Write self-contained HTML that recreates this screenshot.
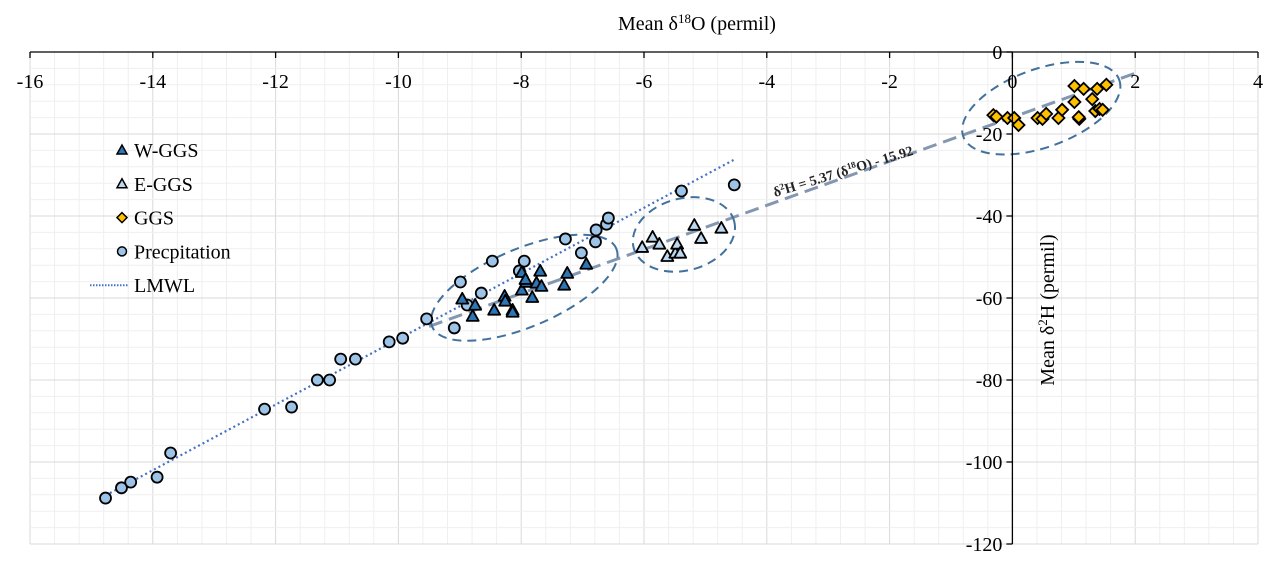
<!DOCTYPE html>
<html><head><meta charset="utf-8">
<style>
html,body{margin:0;padding:0;background:#fff;}
svg{display:block;font-family:"Liberation Serif",serif;}
</style></head>
<body>
<svg id="chart" width="1278" height="565" viewBox="0 0 1278 565" xmlns="http://www.w3.org/2000/svg">
<g id="grid"></g>
<g id="annot"></g>
<g id="marks"></g>
<g id="axes"></g>
<g id="legend"></g>
</svg>
<script>
const precipX=[-14.77,-14.51,-14.36,-13.93,-13.71,-12.18,-11.74,-11.32,-11.12,-10.94,-10.70,-10.15,-9.93,-9.54,-9.09,-8.99,-8.88,-8.65,-8.47,-8.03,-7.95,-7.28,-7.02,-6.79,-6.78,-6.61,-6.58,-5.39,-4.53];
const precipY=[-108.8,-106.3,-104.9,-103.7,-97.8,-87.1,-86.6,-80.0,-80.0,-74.9,-74.9,-70.7,-69.8,-65.1,-67.3,-56.1,-61.7,-58.8,-51.0,-53.4,-51.0,-45.6,-49.0,-46.3,-43.4,-42.0,-40.5,-33.9,-32.4];
const wX=[-8.96,-8.79,-8.75,-8.44,-8.27,-8.26,-8.14,-8.14,-7.99,-7.92,-7.75,-7.82,-7.67,-7.69,-7.99,-7.93,-7.30,-7.25,-6.94];
const wY=[-60.2,-64.4,-61.7,-62.9,-59.5,-60.7,-62.9,-63.4,-58.0,-56.1,-56.3,-59.8,-57.1,-53.4,-53.7,-55.4,-56.8,-53.9,-51.7];
const eX=[-6.03,-5.86,-5.75,-5.62,-5.49,-5.46,-5.41,-5.18,-5.07,-4.74];
const eY=[-47.6,-45.1,-46.8,-49.8,-49.0,-46.8,-49.0,-42.2,-45.4,-42.9];
const gX=[-0.31,-0.26,-0.08,0.03,0.10,0.41,0.49,0.55,0.75,0.81,1.01,1.01,1.09,1.16,1.30,1.38,1.35,1.42,1.47,1.53,1.08];
const gY=[-15.4,-15.8,-16.1,-16.1,-17.8,-16.1,-16.3,-15.1,-16.1,-14.1,-12.2,-8.3,-16.3,-9.0,-11.5,-9.0,-14.4,-13.9,-14.1,-8.0,-15.9];
const xTicks=[-16,-14,-12,-10,-8,-6,-4,-2,0,2,4];
const yTicks=[0,-20,-40,-60,-80,-100,-120];
const lmwlSlope=8.0, lmwlInt=10.0, lmwlRange=[-14.77,-4.53];
const regSlope=5.37, regInt=-15.92, regRange=[-9.5,2.0];

const NS="http://www.w3.org/2000/svg";
const X0=30,X1=1258,Y0=52,Y1=544;
const sx=v=>X0+(v+16)/20*(X1-X0);
const sy=v=>Y0+(-v)/120*(Y1-Y0);
function mk(tag,attrs,parent){const e=document.createElementNS(NS,tag);for(const k in attrs)e.setAttribute(k,attrs[k]);parent.appendChild(e);return e;}
const grid=document.getElementById('grid'),annot=document.getElementById('annot'),marks=document.getElementById('marks'),axes=document.getElementById('axes'),legend=document.getElementById('legend');

for(let i=0;i<=50;i++){const v=-16+i*0.4;const major=i%5==0;
 const l=mk('line',{x1:sx(v),x2:sx(v),y1:Y0,y2:Y1,stroke:major?'#d9d9d9':'#efefef','stroke-width':1},grid);
 
 }
for(let i=0;i<=30;i++){const v=-i*4;const major=i%5==0;
 const l=mk('line',{x1:X0,x2:X1,y1:sy(v),y2:sy(v),stroke:major?'#d9d9d9':'#efefef','stroke-width':1},grid);
 
 }

let lm=mk('line',{x1:sx(lmwlRange[0]),y1:sy(lmwlSlope*lmwlRange[0]+lmwlInt),x2:sx(lmwlRange[1]),y2:sy(lmwlSlope*lmwlRange[1]+lmwlInt),stroke:'#4472c4','stroke-width':2.2,'stroke-dasharray':'2 3'},annot);


let rg=mk('line',{x1:sx(regRange[0]),y1:sy(regSlope*regRange[0]+regInt),x2:sx(regRange[1]),y2:sy(regSlope*regRange[1]+regInt),stroke:'#8497b0','stroke-width':3,'stroke-dasharray':'14 7'},annot);



const ells=[[-7.95,-57.5,100,39,-23,'w-ggs-ellipse'],[-5.35,-44.5,52,36,-15,'e-ggs-ellipse'],[0.47,-13.7,83,39,-20,'ggs-ellipse']];
ells.forEach(e=>{const el=mk('ellipse',{cx:sx(e[0]),cy:sy(e[1]),rx:e[2],ry:e[3],transform:`rotate(${e[4]} ${sx(e[0])} ${sy(e[1])})`,fill:'none',stroke:'#41719c','stroke-width':2,'stroke-dasharray':'9 6'},annot);
 
 });

const eq=mk('text',{x:0,y:0,'font-size':14,'font-weight':'bold',fill:'#222',transform:`translate(775,197) rotate(-17)`},annot);
eq.innerHTML='δ<tspan dy="-5" font-size="9">2</tspan><tspan dy="5">H  = 5.37 (δ</tspan><tspan dy="-5" font-size="9">18</tspan><tspan dy="5">O)  - 15.92</tspan>';



function tri(x,y,fill,parent,name){const s=6;const p=mk('polygon',{points:`${x},${y-s} ${x-s},${y+s*0.8} ${x+s},${y+s*0.8}`,fill:fill,stroke:'#000','stroke-width':1.8,'stroke-linejoin':'round'},parent);
 
 }
function dia(x,y,parent,name){const s=6;const p=mk('polygon',{points:`${x},${y-s} ${x+s},${y} ${x},${y+s} ${x-s},${y}`,fill:'#ffc000',stroke:'#000','stroke-width':1.8},parent);
 
 }
function circ(x,y,parent,name){const c=mk('circle',{cx:x,cy:y,r:5.5,fill:'#9dc3e6',stroke:'#000','stroke-width':1.8},parent);
 
 }
precipX.forEach((v,i)=>circ(sx(v),sy(precipY[i]),marks,'precipitation-point'));
wX.forEach((v,i)=>tri(sx(v),sy(wY[i]),'#2e75b6',marks,'w-ggs-point'));
eX.forEach((v,i)=>tri(sx(v),sy(eY[i]),'#bdd7ee',marks,'e-ggs-point'));
gX.forEach((v,i)=>dia(sx(v),sy(gY[i]),marks,'ggs-point'));

let xa=mk('line',{x1:X0,x2:X1,y1:Y0,y2:Y0,stroke:'#000','stroke-width':1.3},axes);


let ya=mk('line',{x1:sx(0),x2:sx(0),y1:Y0,y2:Y1,stroke:'#000','stroke-width':1.3},axes);


xTicks.forEach(v=>{let t=mk('line',{x1:sx(v),x2:sx(v),y1:Y0,y2:Y0+6,stroke:'#000','stroke-width':1.3},axes);
 
 
 let tx=mk('text',{x:sx(v),y:Y0+36,'text-anchor':'middle','font-size':20,fill:'#000'},axes);tx.textContent=v;
 
 });
yTicks.forEach(v=>{let t=mk('line',{x1:sx(0)-6,x2:sx(0),y1:sy(v),y2:sy(v),stroke:'#000','stroke-width':1.3},axes);
 
 
 let tx=mk('text',{x:sx(0)-10,y:sy(v)+7,'text-anchor':'end','font-size':20,fill:'#000'},axes);tx.textContent=v;
 
 });
let xt=mk('text',{x:697,y:30,'text-anchor':'middle','font-size':20,fill:'#000'},axes);
xt.innerHTML='Mean δ<tspan dy="-7" font-size="13">18</tspan><tspan dy="7">O (permil)</tspan>';


let yt=mk('text',{x:0,y:0,'text-anchor':'middle','font-size':20,fill:'#000',transform:'translate(1054,310) rotate(-90)'},axes);
yt.innerHTML='Mean δ<tspan dy="-7" font-size="13">2</tspan><tspan dy="7">H (permil)</tspan>';



const legLabels=['W-GGS','E-GGS','GGS','Precpitation','LMWL'];
legLabels.forEach((lab,i)=>{const y=150+i*33.8;const g=mk('g',{},legend);
 
 
 const mx=122;
 if(i==0){const p=mk('polygon',{points:`${mx},${y-5} ${mx-5},${y+4} ${mx+5},${y+4}`,fill:'#2e75b6',stroke:'#000','stroke-width':1.5},g);}
 if(i==1){const p=mk('polygon',{points:`${mx},${y-5} ${mx-5},${y+4} ${mx+5},${y+4}`,fill:'#bdd7ee',stroke:'#000','stroke-width':1.5},g);}
 if(i==2){const p=mk('polygon',{points:`${mx},${y-5} ${mx+5},${y} ${mx},${y+5} ${mx-5},${y}`,fill:'#ffc000',stroke:'#000','stroke-width':1.5},g);}
 if(i==3){const p=mk('circle',{cx:mx,cy:y,r:4.5,fill:'#9dc3e6',stroke:'#000','stroke-width':1.5},g);}
 if(i==4){const p=mk('line',{x1:90,x2:128,y1:y,y2:y,stroke:'#4472c4','stroke-width':2,'stroke-dasharray':'1.5 1.5'},g);}
 const t=mk('text',{x:134,y:y+7,'font-size':20,fill:'#000'},g);t.textContent=lab;
 
 });
</script>
</body></html>
